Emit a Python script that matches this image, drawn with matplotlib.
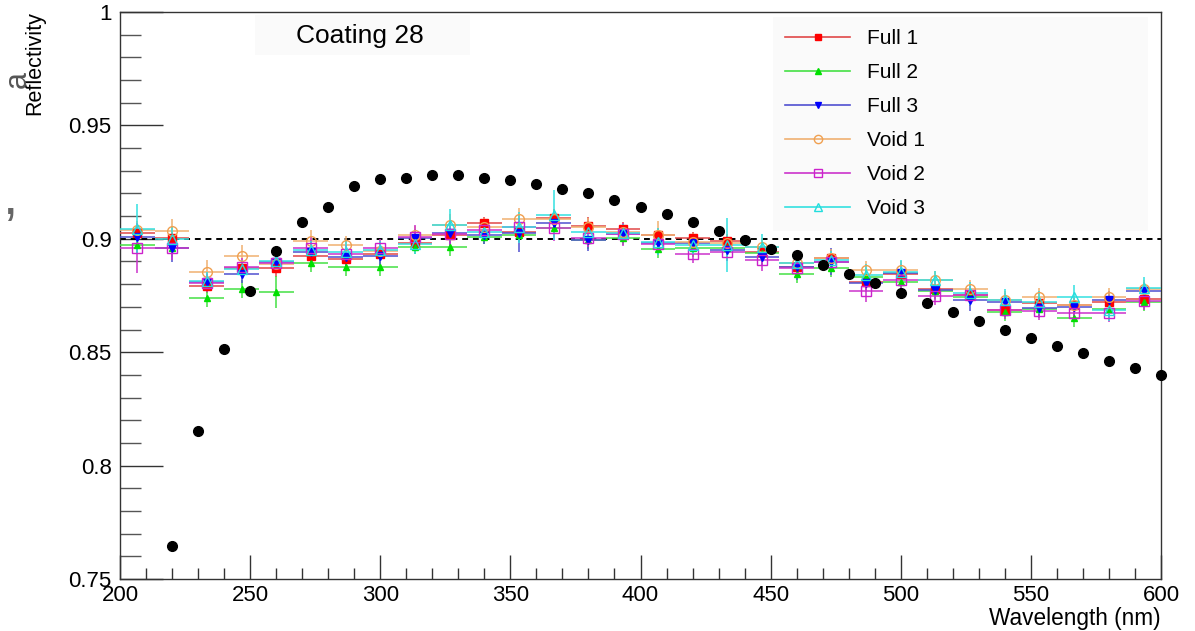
import numpy as np
import matplotlib.pyplot as plt
from matplotlib.lines import Line2D
from matplotlib.patches import Rectangle
from matplotlib.ticker import MultipleLocator

plt.rcParams['font.family'] = ['Liberation Sans', 'DejaVu Sans']

# bin centres (nm) and half bin width of the measured series
bin_centers = [206.7, 220.0, 233.3, 246.7, 260.0, 273.3, 286.7, 300.0, 313.3, 326.7,
               340.0, 353.3, 366.7, 380.0, 393.3, 406.7, 420.0, 433.3, 446.7, 460.0,
               473.3, 486.7, 500.0, 513.3, 526.7, 540.0, 553.3, 566.7, 580.0, 593.3]
half_bin = 6.67

full1 = [0.9024, 0.9005, 0.8792, 0.8873, 0.8870, 0.8924, 0.8911, 0.8932, 0.8980, 0.9017,
         0.9068, 0.9029, 0.9090, 0.9058, 0.9042, 0.9017, 0.9002, 0.8990, 0.8943, 0.8877,
         0.8914, 0.8810, 0.8845, 0.8779, 0.8752, 0.8686, 0.8719, 0.8708, 0.8723, 0.8733]
full2 = [0.8973, 0.8960, 0.8740, 0.8780, 0.8767, 0.8892, 0.8877, 0.8877, 0.8965, 0.8965,
         0.9009, 0.9017, 0.9046, 0.8995, 0.9002, 0.8955, 0.8958, 0.8958, 0.8936, 0.8845,
         0.8870, 0.8830, 0.8811, 0.8772, 0.8745, 0.8679, 0.8690, 0.8652, 0.8690, 0.8723]
full3 = [0.9009, 0.8958, 0.8808, 0.8843, 0.8899, 0.8940, 0.8921, 0.8924, 0.9002, 0.9024,
         0.9017, 0.9024, 0.9068, 0.8995, 0.9020, 0.8980, 0.8980, 0.8950, 0.8921, 0.8877,
         0.8899, 0.8804, 0.8848, 0.8776, 0.8730, 0.8723, 0.8693, 0.8701, 0.8730, 0.8771]
void1 = [0.9039, 0.9036, 0.8855, 0.8924, 0.8890, 0.8990, 0.8973, 0.8945, 0.9017, 0.9061,
         0.9053, 0.9086, 0.9087, 0.9050, 0.9030, 0.9017, 0.8987, 0.8980, 0.8962, 0.8892,
         0.8917, 0.8862, 0.8862, 0.8818, 0.8777, 0.8730, 0.8742, 0.8708, 0.8745, 0.8780]
void2 = [0.8958, 0.8958, 0.8804, 0.8877, 0.8892, 0.8958, 0.8932, 0.8961, 0.9009, 0.9020,
         0.9039, 0.9053, 0.9049, 0.9002, 0.9020, 0.8976, 0.8934, 0.8940, 0.8907, 0.8873,
         0.8899, 0.8770, 0.8818, 0.8749, 0.8752, 0.8686, 0.8683, 0.8674, 0.8674, 0.8727]
void3 = [0.9042, 0.9000, 0.8814, 0.8867, 0.8900, 0.8950, 0.8943, 0.8950, 0.8975, 0.9061,
         0.9031, 0.9050, 0.9105, 0.9031, 0.9027, 0.8987, 0.8973, 0.8973, 0.8962, 0.8892,
         0.8905, 0.8840, 0.8855, 0.8818, 0.8760, 0.8730, 0.8720, 0.8745, 0.8686, 0.8782]

full1_err = [0.003, 0.003, 0.003, 0.003, 0.004, 0.004, 0.003, 0.003, 0.003, 0.003,
             0.003, 0.004, 0.004, 0.004, 0.003, 0.003, 0.003, 0.003, 0.003, 0.003,
             0.003, 0.003, 0.003, 0.003, 0.003, 0.003, 0.003, 0.003, 0.003, 0.003]
full2_err = [0.004, 0.004, 0.004, 0.004, 0.007, 0.004, 0.004, 0.004, 0.003, 0.004,
             0.003, 0.003, 0.004, 0.004, 0.003, 0.004, 0.004, 0.004, 0.003, 0.004,
             0.004, 0.004, 0.004, 0.004, 0.004, 0.004, 0.004, 0.004, 0.004, 0.004]
full3_err = [0.005, 0.006, 0.004, 0.004, 0.004, 0.004, 0.004, 0.004, 0.004, 0.005,
             0.004, 0.008, 0.004, 0.005, 0.004, 0.005, 0.004, 0.005, 0.004, 0.006,
             0.006, 0.004, 0.004, 0.004, 0.005, 0.004, 0.004, 0.004, 0.004, 0.004]
void1_err = [0.004, 0.005, 0.005, 0.005, 0.004, 0.005, 0.004, 0.004, 0.004, 0.005,
             0.004, 0.005, 0.004, 0.004, 0.004, 0.006, 0.004, 0.004, 0.004, 0.004,
             0.004, 0.004, 0.004, 0.004, 0.004, 0.004, 0.004, 0.004, 0.004, 0.004]
void2_err = [0.011, 0.005, 0.004, 0.004, 0.004, 0.005, 0.004, 0.004, 0.005, 0.005,
             0.004, 0.004, 0.006, 0.004, 0.005, 0.004, 0.004, 0.004, 0.005, 0.004,
             0.004, 0.005, 0.004, 0.004, 0.004, 0.004, 0.004, 0.004, 0.004, 0.004]
void3_err = [0.011, 0.005, 0.004, 0.004, 0.004, 0.004, 0.005, 0.004, 0.004, 0.007,
             0.004, 0.007, 0.011, 0.004, 0.004, 0.006, 0.004, 0.012, 0.006, 0.005,
             0.004, 0.005, 0.005, 0.004, 0.005, 0.005, 0.005, 0.005, 0.005, 0.005]

series_labels = ["Full 1", "Full 2", "Full 3", "Void 1", "Void 2", "Void 3"]

# reference (simulation) curve
ref_wl = [220, 230, 240, 250, 260, 270, 280, 290, 300, 310, 320, 330, 340, 350, 360, 370,
          380, 390, 400, 410, 420, 430, 440, 450, 460, 470, 480, 490, 500, 510, 520, 530,
          540, 550, 560, 570, 580, 590, 600]
ref_refl = [0.7644, 0.8153, 0.8514, 0.8770, 0.8946, 0.9074, 0.9140, 0.9233, 0.9264, 0.9270,
            0.9280, 0.9280, 0.9270, 0.9260, 0.9240, 0.9220, 0.9200, 0.9170, 0.9140, 0.9110,
            0.9074, 0.9034, 0.8995, 0.8955, 0.8929, 0.8884, 0.8845, 0.8805, 0.8760, 0.8717,
            0.8677, 0.8638, 0.8600, 0.8563, 0.8527, 0.8496, 0.8461, 0.8430, 0.8400]

styles = [
    dict(marker="s", color="#ff0000", mfc="#ff0000", line="#e04848", ms=5.5),
    dict(marker="^", color="#00e000", mfc="#00e000", line="#44e044", ms=5),
    dict(marker="v", color="#0000ff", mfc="#0000ff", line="#5050d0", ms=5.5),
    dict(marker="o", color="#f0a050", mfc="none", line="#f0b070", ms=7),
    dict(marker="s", color="#cc22cc", mfc="none", line="#cc33cc", ms=7),
    dict(marker="^", color="#22dddd", mfc="none", line="#33e0e0", ms=7),
]

fig = plt.figure(figsize=(11.95, 6.31), dpi=100)
ax = fig.add_axes([120 / 1195, 1 - 579 / 631, 1041 / 1195, 567 / 631])

all_vals = [full1, full2, full3, void1, void2, void3]
all_errs = [full1_err, full2_err, full3_err, void1_err, void2_err, void3_err]

handles = []
for vals, errs, lab, st in zip(all_vals, all_errs, series_labels, styles):
    ax.errorbar(bin_centers, vals, xerr=half_bin, yerr=errs, fmt=st["marker"],
                color=st["line"], ecolor=st["line"], elinewidth=1.1, capsize=0,
                mfc=st["mfc"], mec=st["color"], ms=st["ms"], mew=1.0, zorder=3)
    handles.append(Line2D([0], [0], color=st["line"], lw=1.2, marker=st["marker"],
                          mfc=st["mfc"], mec=st["color"], ms=st["ms"] * 0.85, mew=1.0))

ax.axhline(0.9, color="black", ls=(0, (3, 2.5)), lw=1.4, zorder=2)
ax.plot(ref_wl, ref_refl, "o", color="black", ms=7, zorder=4, clip_on=False)

ax.set_xlim(200, 600)
ax.set_ylim(0.75, 1.0)
ax.xaxis.set_major_locator(MultipleLocator(50))
ax.xaxis.set_minor_locator(MultipleLocator(10))
ax.yaxis.set_minor_locator(MultipleLocator(0.01))
ax.set_yticks([0.75, 0.8, 0.85, 0.9, 0.95, 1.0])
ax.set_yticklabels(["0.75", "0.8", "0.85", "0.9", "0.95", "1"])
ax.tick_params(axis="x", which="major", direction="in", length=17, width=1, pad=4,
               labelsize=16, color="#333333")
ax.tick_params(axis="x", which="minor", direction="in", length=8, width=1, color="#333333")
ax.tick_params(axis="y", which="major", direction="in", length=31, width=1, pad=6,
               labelsize=16, color="#333333")
ax.tick_params(axis="y", which="minor", direction="in", length=15, width=1, color="#555555")
for sp in ax.spines.values():
    sp.set_color("#333333")
    sp.set_linewidth(1.0)

fig.text(1161 / 1195, 1 - 618 / 631, "Wavelength (nm)", ha="right", va="center", fontsize=16.3)
fig.text(35 / 1195, 1 - 11 / 631, "Reflectivity", ha="center", va="top", rotation=90,
         fontsize=15.5)
# stray glyphs at the left edge of the reference crop
fig.text(18 / 1195, 1 - 80 / 631, "a", ha="center", va="center", rotation=90,
         fontsize=22, color="#555555")
fig.text(10 / 1195, 1 - 200 / 631, ",", ha="center", va="center", rotation=0,
         fontsize=40, color="#666666")

# title box
fig.patches.append(Rectangle((255 / 1195, 1 - 55 / 631), 215 / 1195, 40 / 631,
                             transform=fig.transFigure, fc="#fafafa", ec="none", zorder=5))
fig.text(360 / 1195, 1 - 36 / 631, "Coating 28", ha="center", va="center", fontsize=19,
         zorder=6)

leg = ax.legend(handles, series_labels, loc="upper left",
                bbox_to_anchor=(773 / 1195, 1 - 222 / 631, 375 / 1195, 205 / 631),
                bbox_transform=fig.transFigure, mode="expand",
                fontsize=15, handlelength=3.1, handletextpad=0.8, labelspacing=0.72,
                borderpad=0.6, borderaxespad=0, frameon=True, fancybox=False)
leg.get_frame().set_facecolor("#fafafa")
leg.get_frame().set_edgecolor("none")
leg.get_frame().set_alpha(1)

fig.savefig("out.png", dpi=100)
